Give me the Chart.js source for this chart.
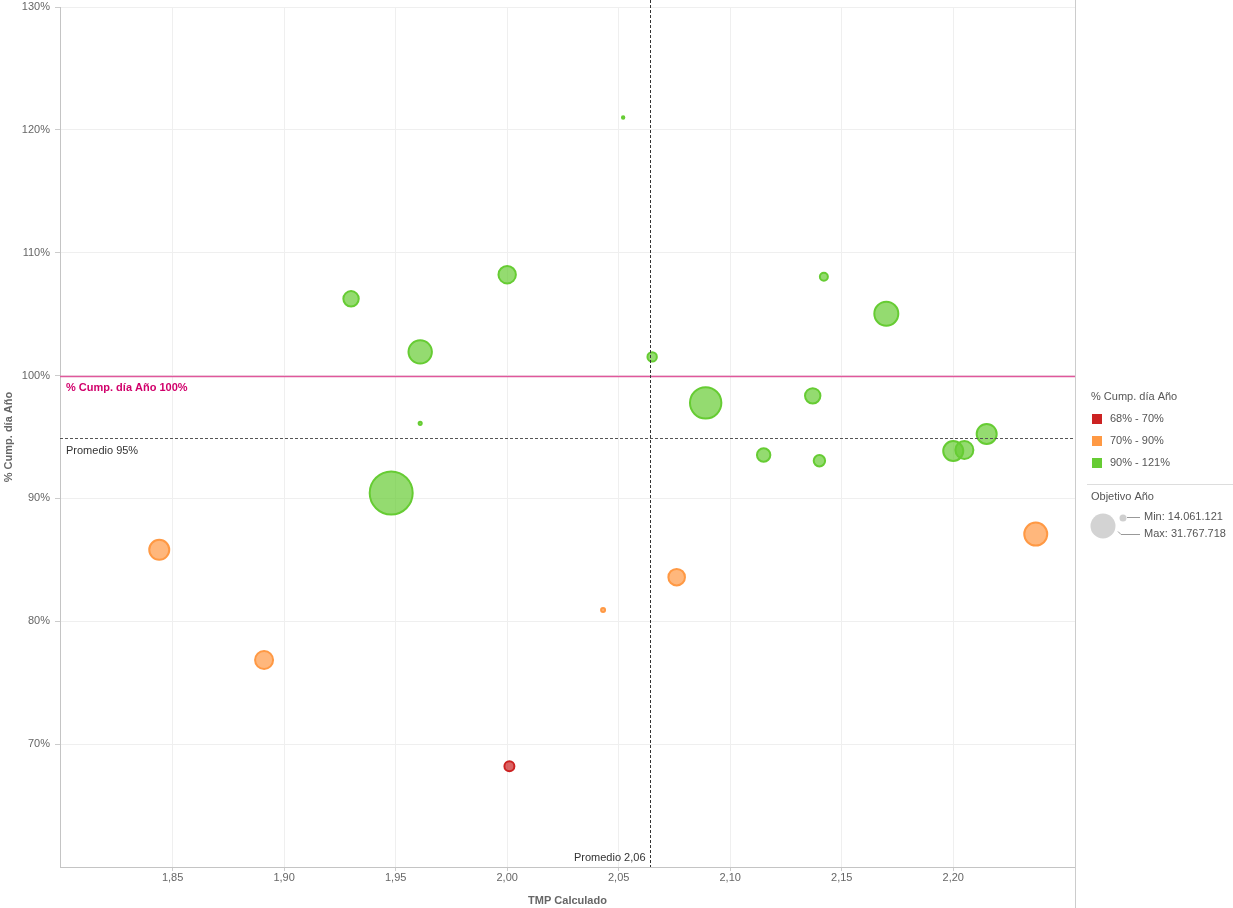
<!DOCTYPE html>
<html>
<head>
<meta charset="utf-8">
<title>TMP vs % Cump. día Año</title>
<script src="https://cdn.jsdelivr.net/npm/chart.js@4.4.1/dist/chart.umd.min.js"></script>
<style>
  body { margin: 0; background: #fff; }
  #wrap { position: relative; width: 1233px; height: 908px; }
</style>
</head>
<body>
<div id="wrap"><canvas id="chart"></canvas></div>
<script>
// valores
const tmp = [1.930, 1.961, 2.000, 2.052, 2.065, 2.142, 2.170, 2.089, 2.137, 1.961, 2.115,
             2.140, 2.200, 2.205, 2.215, 2.237, 1.948, 1.844, 1.891, 2.043, 2.076, 2.001];
const cumplimiento = [106.25, 101.93, 108.21, 121.01, 101.52, 108.05, 105.03, 97.78, 98.35, 96.11, 93.54,
                      93.07, 93.86, 93.94, 95.25, 87.10, 90.44, 85.82, 76.85, 80.92, 83.59, 68.21];
const objetivo = [16285000, 19267000, 16914000, 14061121, 14854000, 14620000, 19540000, 23478000, 16290000, 14100000, 15731000,
                  15255000, 17849000, 17119000, 17850000, 19088000, 31767718, 17845000, 17120000, 14160000, 16653000, 14966000];

const xTicks = [1.85, 1.90, 1.95, 2.00, 2.05, 2.10, 2.15, 2.20];
const yTicks = [70, 80, 90, 100, 110, 120, 130];

const rangoLabels = ["68% - 70%", "70% - 90%", "90% - 121%"];
const rangoLimites = [70, 90];   // cortes entre rangos

const promedioX = 2.064;
const promedioY = 94.95;
const meta = 100;

// estilos
const legendColors = ["#cc2222", "#ff9944", "#66cc33"];
const fillColors = ["rgba(204,34,34,0.7)", "rgba(255,153,68,0.7)", "rgba(102,204,51,0.7)"];
const R_MIN = 1.2, R_MAX = 21.5;

const objMin = Math.min(...objetivo);
const objMax = Math.max(...objetivo);

function radio(v) {
  const t = (v - objMin) / (objMax - objMin);
  return Math.sqrt(R_MIN * R_MIN + t * (R_MAX * R_MAX - R_MIN * R_MIN));
}

function rango(v) {
  if (v < rangoLimites[0]) return 0;
  if (v < rangoLimites[1]) return 1;
  return 2;
}

function miles(n) {
  return String(Math.round(n)).replace(/\B(?=(\d{3})+(?!\d))/g, ".");
}

const datasets = rangoLabels.map((label, k) => ({
  label: label,
  data: tmp.map((x, i) => ({ x: x, y: cumplimiento[i], r: radio(objetivo[i]) }))
           .filter((p, i) => rango(cumplimiento[i]) === k),
  backgroundColor: fillColors[k],
  borderColor: legendColors[k],
  borderWidth: 2
}));

// las burbujas no deben empujar el area del grafico
Chart.BubbleController.prototype.getMaxOverflow = function () { return false; };

const FONT = '"Liberation Sans", Arial, sans-serif';

const extras = {
  id: "extras",
  afterDatasetsDraw(chart) {
    const { ctx, chartArea: a, scales: { x, y } } = chart;
    ctx.save();
    ctx.textBaseline = "middle";

    // linea meta 100%
    const yMeta = Math.round(y.getPixelForValue(meta)) + 0.5;
    ctx.strokeStyle = "#e0589c";
    ctx.lineWidth = 1.5;
    ctx.beginPath(); ctx.moveTo(a.left, yMeta); ctx.lineTo(a.right, yMeta); ctx.stroke();
    ctx.fillStyle = "#d1006b";
    ctx.font = "bold 11px " + FONT;
    ctx.fillText("% Cump. día Año 100%", a.left + 6, yMeta + 11);

    // promedio horizontal
    ctx.setLineDash([3, 2]);
    ctx.lineWidth = 1;
    const yAvg = Math.round(y.getPixelForValue(promedioY)) + 0.5;
    ctx.strokeStyle = "#555";
    ctx.beginPath(); ctx.moveTo(a.left, yAvg); ctx.lineTo(a.right, yAvg); ctx.stroke();

    // promedio vertical
    const xAvg = Math.round(x.getPixelForValue(promedioX)) + 0.5;
    ctx.strokeStyle = "#333";
    ctx.beginPath(); ctx.moveTo(xAvg, 0); ctx.lineTo(xAvg, a.bottom); ctx.stroke();
    ctx.setLineDash([]);

    ctx.fillStyle = "#333";
    ctx.font = "11px " + FONT;
    ctx.fillText("Promedio " + Math.round(promedioY) + "%", a.left + 6, yAvg + 12);
    ctx.textAlign = "right";
    ctx.fillText("Promedio " + promedioX.toFixed(2).replace(".", ","), xAvg - 5, a.bottom - 9);
    ctx.restore();
  },
  afterDraw(chart) {
    const { ctx, chartArea: a } = chart;
    ctx.save();
    // separador leyenda
    ctx.strokeStyle = "#cccccc";
    ctx.lineWidth = 1;
    ctx.beginPath(); ctx.moveTo(a.right + 0.5, 0); ctx.lineTo(a.right + 0.5, chart.height); ctx.stroke();

    const lx = a.right + 16;
    ctx.textBaseline = "middle";
    ctx.font = "11px " + FONT;
    ctx.fillStyle = "#555";
    ctx.fillText("% Cump. día Año", lx, 397);
    rangoLabels.forEach((lab, k) => {
      const cy = 419 + k * 22;
      ctx.fillStyle = legendColors[k];
      ctx.fillRect(lx + 1, cy - 5, 10, 10);
      ctx.fillStyle = "#555";
      ctx.fillText(lab, lx + 19, cy);
    });

    ctx.strokeStyle = "#dddddd";
    ctx.beginPath(); ctx.moveTo(a.right + 12, 484.5); ctx.lineTo(chart.width, 484.5); ctx.stroke();

    ctx.fillStyle = "#555";
    ctx.fillText("Objetivo Año", lx, 497);

    ctx.fillStyle = "#d3d3d3";
    ctx.beginPath(); ctx.arc(lx + 12, 526, 12.5, 0, Math.PI * 2); ctx.fill();
    ctx.fillStyle = "#cfcfcf";
    ctx.beginPath(); ctx.arc(lx + 32, 518, 3.5, 0, Math.PI * 2); ctx.fill();

    ctx.strokeStyle = "#999";
    ctx.beginPath(); ctx.moveTo(lx + 36, 517.5); ctx.lineTo(lx + 49, 517.5); ctx.stroke();
    ctx.beginPath(); ctx.moveTo(lx + 27, 531.5); ctx.lineTo(lx + 30, 534.5); ctx.lineTo(lx + 49, 534.5); ctx.stroke();

    ctx.fillStyle = "#555";
    ctx.fillText("Min: " + miles(objMin), lx + 53, 517);
    ctx.fillText("Max: " + miles(objMax), lx + 53, 534);
    ctx.restore();
  }
};

new Chart(document.getElementById("chart"), {
  type: "bubble",
  data: { datasets: datasets },
  options: {
    responsive: true,
    maintainAspectRatio: false,
    animation: false,
    events: [],
    layout: { padding: { top: 7, right: 158, left: 0, bottom: 0 } },
    plugins: { legend: { display: false }, tooltip: { enabled: false } },
    scales: {
      x: {
        type: "linear",
        min: 1.7995,
        max: 2.2546,
        afterBuildTicks: (s) => { s.ticks = xTicks.map(v => ({ value: v })); },
        afterFit: (s) => { s.height = 41; s.paddingLeft = 0; s.paddingRight = 0; },
        ticks: {
          color: "#666",
          font: { family: FONT, size: 11 },
          padding: 0,
          maxRotation: 0,
          callback: (v) => Number(v).toFixed(2).replace(".", ",")
        },
        grid: { color: "#efefef", tickColor: "#cccccc", tickLength: 4 },
        border: { color: "#c4c4c4", width: 1 },
        title: {
          display: true,
          text: "TMP Calculado",
          color: "#666",
          font: { family: FONT, size: 11, weight: "bold" },
          padding: { top: 0, bottom: 0 }
        }
      },
      y: {
        type: "linear",
        min: 60,
        max: 130,
        afterBuildTicks: (s) => { s.ticks = yTicks.map(v => ({ value: v })); },
        afterFit: (s) => { s.width = 60; s.paddingTop = 0; s.paddingBottom = 0; },
        ticks: {
          color: "#666",
          font: { family: FONT, size: 11 },
          padding: 5,
          callback: (v) => v + "%"
        },
        grid: { color: "#efefef", tickColor: "#cccccc", tickLength: 5 },
        border: { color: "#c4c4c4", width: 1 },
        title: {
          display: true,
          text: "% Cump. día Año",
          color: "#666",
          font: { family: FONT, size: 11, weight: "bold" },
          padding: { top: 2, bottom: 0 }
        }
      }
    }
  },
  plugins: [extras]
});
</script>
</body>
</html>
